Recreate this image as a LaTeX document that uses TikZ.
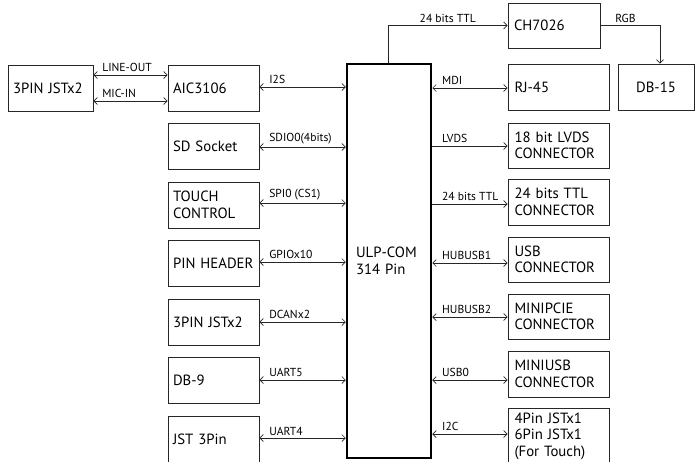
\documentclass[tikz,border=0pt]{standalone}
\usepackage{fontspec}
\setmainfont{PT Sans}
\usetikzlibrary{arrows.meta}
\begin{document}
\begin{tikzpicture}[x=1pt,y=-1pt,
  box/.style={draw=black!85, line width=0.8pt, inner ysep=2pt, minimum height=46pt,
    font=\fontsize{14.8}{16.5}\selectfont, align=left},
  lbox/.style={box, inner xsep=5pt, text width=81pt},
  rbox/.style={box, inner xsep=6.5pt, text width=88pt},
  mainbox/.style={draw=black, line width=2.5pt, minimum width=84pt, minimum height=394pt,
    inner xsep=8pt, text width=66pt, align=left, font=\fontsize{14.8}{16.5}\selectfont},
  lbl/.style={font=\fontsize{11.6}{12}\selectfont, inner sep=0.5pt, anchor=south west, yshift=2pt},
  tip/.tip={Straight Barb[length=3.5pt,width=7pt,line width=0.7pt]},
  conn/.style={draw=black!85, line width=0.8pt},
  dbl/.style={conn, tip-tip},
  sgl/.style={conn, -tip}]
\useasboundingbox (0,0) rectangle (696,461);
\clip (0,0) rectangle (696,461);
% left column
\node[box, inner xsep=5pt, text width=75pt] (jstL) at (50.5,88) {3PIN JSTx2};
\node[lbox] (aic) at (213.5,88) {AIC3106};
\node[lbox] (sd) at (213.5,146) {SD Socket};
\node[lbox] (touch) at (213.5,205) {TOUCH\\CONTROL};
\node[lbox] (pinh) at (213.5,263.5) {PIN HEADER};
\node[lbox] (jstb) at (213.5,322) {3PIN JSTx2};
\node[lbox] (db9) at (213.5,380.5) {DB-9};
\node[lbox] (jst3) at (213.5,439) {JST 3Pin};
% central
\node[mainbox] (ulp) at (389,261) {ULP-COM\\314 Pin};
% right column
\node[box, inner xsep=6pt, text width=80pt, minimum height=45pt] (ch) at (554,25.5) {CH7026};
\node[box, minimum width=76pt, minimum height=46pt, align=center] (db15) at (656,87) {DB-15};
\node[rbox] (rj) at (558.5,87) {RJ-45};
\node[rbox, minimum height=45pt] (lvds) at (558.5,145.5) {18 bit LVDS\\CONNECTOR};
\node[rbox] (ttl) at (558.5,202) {24 bits TTL\\CONNECTOR};
\node[rbox, minimum height=45pt] (usb) at (558.5,259.5) {USB\\CONNECTOR};
\node[rbox, minimum height=45pt] (pcie) at (558.5,316.5) {MINIPCIE\\CONNECTOR};
\node[rbox] (musb) at (558.5,374) {MINIUSB\\CONNECTOR};
\node[rbox, minimum height=56pt] (tconn) at (558.5,436) {4Pin JSTx1\\6Pin JSTx1\\(For Touch)};
% connectors left
\draw[dbl] (jstL.east |- 0,75) -- (aic.west |- 0,75) node[lbl, pos=0, xshift=8pt] {LINE-OUT};
\draw[dbl] (jstL.east |- 0,101) -- (aic.west |- 0,101) node[lbl, pos=0, xshift=8pt] {MIC-IN};
\draw[dbl] (aic.east |- 0,87) -- (ulp.west |- 0,87) node[lbl, pos=0, xshift=9pt] {I2S};
\draw[dbl] (sd.east |- 0,147) -- (ulp.west |- 0,147) node[lbl, pos=0, xshift=9pt] {SDIO0(4bits)};
\draw[dbl] (touch.east |- 0,203) -- (ulp.west |- 0,203) node[lbl, pos=0, xshift=9pt] {SPI0 (CS1)};
\draw[dbl] (pinh.east |- 0,262) -- (ulp.west |- 0,262) node[lbl, pos=0, xshift=9pt] {GPIOx10};
\draw[dbl] (jstb.east |- 0,322) -- (ulp.west |- 0,322) node[lbl, pos=0, xshift=9pt] {DCANx2};
\draw[dbl] (db9.east |- 0,380) -- (ulp.west |- 0,380) node[lbl, pos=0, xshift=9pt] {UART5};
\draw[dbl] (jst3.east |- 0,438) -- (ulp.west |- 0,438) node[lbl, pos=0, xshift=9pt] {UART4};
% connectors right
\draw[sgl] (ulp.north -| 388,0) |- (ch.west) node[lbl, pos=0.75, anchor=south, xshift=0pt] {24 bits TTL};
\draw[sgl] (ch.east) -| ([xshift=4pt]db15.north) node[lbl, pos=0, xshift=14pt] {RGB};
\draw[dbl] (ulp.east |- 0,88) -- (rj.west |- 0,88) node[lbl, pos=0, xshift=9pt] {MDI};
\draw[sgl] (ulp.east |- 0,146) -- (lvds.west |- 0,146) node[lbl, pos=0, xshift=9pt] {LVDS};
\draw[sgl] (ulp.east |- 0,204) -- (ttl.west |- 0,204) node[lbl, pos=0, xshift=9pt] {24 bits TTL};
\draw[dbl] (ulp.east |- 0,263) -- (usb.west |- 0,263) node[lbl, pos=0, xshift=9pt] {HUBUSB1};
\draw[dbl] (ulp.east |- 0,317) -- (pcie.west |- 0,317) node[lbl, pos=0, xshift=9pt] {HUBUSB2};
\draw[dbl] (ulp.east |- 0,380) -- (musb.west |- 0,380) node[lbl, pos=0, xshift=9pt] {USB0};
\draw[dbl] (ulp.east |- 0,434) -- (tconn.west |- 0,434) node[lbl, pos=0, xshift=9pt] {I2C};
\end{tikzpicture}
\end{document}
